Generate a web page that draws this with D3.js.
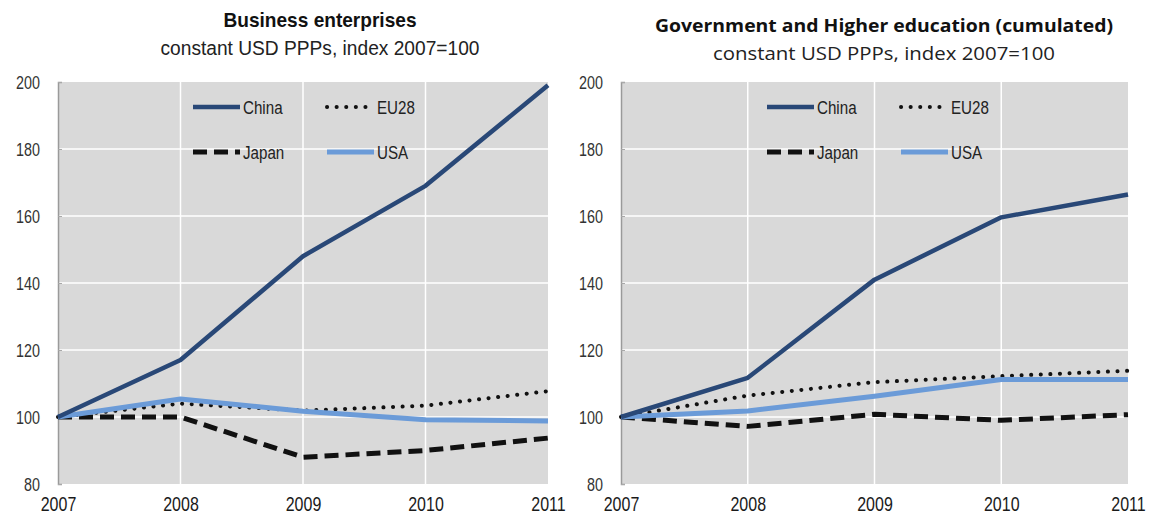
<!DOCTYPE html>
<html lang="en">
  <head>
    <meta charset="UTF-8" />
    <title>R&amp;D expenditure index</title>
    <style>
      body { margin: 0; background: #fff; }
    </style>
  </head>

  <body>
    <script src="https://cdn.jsdelivr.net/npm/d3@7/dist/d3.min.js"></script>
    <script>
      // data
      var years = [2007, 2008, 2009, 2010, 2011];
      var yTicks = [80, 100, 120, 140, 160, 180, 200];
      var names = ["China", "EU28", "Japan", "USA"];

      var busChina = [100, 117, 148, 169, 199];
      var busEU28  = [100, 104, 101.9, 103.4, 107.7];
      var busJapan = [100, 100, 88, 90, 93.7];
      var busUSA   = [100, 105.4, 101.7, 99.2, 98.8];

      var govChina = [100, 111.7, 141, 159.6, 166.4];
      var govEU28  = [100, 106.4, 110.4, 112.2, 113.8];
      var govJapan = [100, 97.2, 100.8, 99, 100.7];
      var govUSA   = [100, 101.8, 106.2, 111.2, 111.2];

      var w = 1151;
      var h = 515;
      var arial = "'Liberation Sans', Arial, sans-serif";
      var calibri = "'Open Sans', Lato, sans-serif";
      var sx = 0.82; // squeeze Arial into Arial Narrow

      var styles = {
        China: { color: "#294877", width: 4.5, dash: null },
        EU28:  { color: "#111", width: 4, dash: "0.1 9.5" },
        Japan: { color: "#111", width: 5, dash: "14 7" },
        USA:   { color: "#6b9bd8", width: 5, dash: null }
      };

      var svg = d3.select("body")
                  .append("svg")
                  .attr("width", w)
                  .attr("height", h);

      function squeeze(sel) {
        sel.attr("transform", "scale(" + sx + ",1)")
           .attr("x", function() { return (+this.getAttribute("x") || 0) / sx; });
      }

      function panel(opts, series) {
        var x = d3.scaleLinear()
                  .domain([2007, 2011])
                  .range([opts.left, opts.right]);
        var y = d3.scaleLinear()
                  .domain([80, 200])
                  .range([484, 82]);

        var g = svg.append("g");

        // grey plot background
        g.append("rect")
         .attr("x", opts.left)
         .attr("y", y(200))
         .attr("width", opts.right - opts.left)
         .attr("height", y(80) - y(200))
         .attr("fill", "#d9d9d9");

        // white grid
        g.selectAll(".hgrid")
         .data(yTicks.slice(1, -1))
         .enter()
         .append("line")
         .attr("x1", opts.left)
         .attr("x2", opts.right)
         .attr("y1", function(d) { return y(d); })
         .attr("y2", function(d) { return y(d); })
         .attr("stroke", "#fff")
         .attr("stroke-width", 1.5);

        g.selectAll(".vgrid")
         .data(years.slice(1, -1))
         .enter()
         .append("line")
         .attr("x1", function(d) { return x(d); })
         .attr("x2", function(d) { return x(d); })
         .attr("y1", y(200))
         .attr("y2", y(80))
         .attr("stroke", "#fff")
         .attr("stroke-width", 1.5);

        // y axis
        var yAxis = d3.axisLeft(y).tickValues(yTicks).tickSize(-4).tickPadding(18);
        var ya = g.append("g")
                  .attr("transform", "translate(" + opts.left + ",0)")
                  .call(yAxis);
        ya.select(".domain").attr("stroke", "#9a9a9a").attr("stroke-width", 1.5);
        ya.selectAll(".tick line").attr("stroke", "#a8a8a8");
        ya.selectAll("text")
          .attr("font-family", arial)
          .attr("font-size", 17.5)
          .attr("fill", "#333")
          .attr("dy", "0.36em")
          .call(squeeze);

        // x axis labels
        var xAxis = d3.axisBottom(x).tickValues(years).tickFormat(d3.format("d")).tickSize(0).tickPadding(13);
        var xa = g.append("g")
                  .attr("transform", "translate(0," + y(80) + ")")
                  .call(xAxis);
        xa.select(".domain").remove();
        xa.selectAll("text")
          .attr("font-family", arial)
          .attr("font-size", 19.5)
          .attr("fill", "#1a1a1a")
          .call(squeeze);

        // lines
        var line = d3.line()
                     .x(function(d, i) { return x(years[i]); })
                     .y(function(d) { return y(d); });

        ["EU28", "Japan", "USA", "China"].forEach(function(n) {
          var s = styles[n];
          g.append("path")
           .attr("d", line(series[n]))
           .attr("fill", "none")
           .attr("stroke", s.color)
           .attr("stroke-width", s.width)
           .attr("stroke-dasharray", s.dash)
           .attr("stroke-linecap", n == "EU28" ? "round" : "butt")
           .attr("stroke-linejoin", "round");
        });

        // legend
        var lg = g.selectAll(".legend")
                  .data(names)
                  .enter()
                  .append("g")
                  .attr("transform", function(d, i) {
                    var lx = opts.legX + (i % 2) * opts.legDx;
                    var ly = 107 + Math.floor(i / 2) * 45;
                    return "translate(" + lx + "," + ly + ")";
                  });
        lg.append("line")
          .attr("x1", 0)
          .attr("x2", 47)
          .attr("stroke", function(d) { return styles[d].color; })
          .attr("stroke-width", function(d) { return styles[d].width; })
          .attr("stroke-dasharray", function(d) { return styles[d].dash; })
          .attr("stroke-linecap", function(d) { return d == "EU28" ? "round" : "butt"; });
        lg.append("text")
          .attr("x", 50)
          .attr("dy", "0.36em")
          .attr("font-family", arial)
          .attr("font-size", 18.5)
          .attr("fill", "#222")
          .text(function(d) { return d; })
          .call(squeeze);

        // titles
        svg.append("text")
           .attr("x", opts.titleX)
           .attr("y", opts.titleY)
           .attr("text-anchor", "middle")
           .attr("font-family", opts.font)
           .attr("font-weight", "bold")
           .attr("font-size", opts.titleSize)
           .attr("textLength", opts.titleLen)
           .attr("lengthAdjust", "spacingAndGlyphs")
           .attr("fill", "#111")
           .text(opts.title);
        svg.append("text")
           .attr("x", opts.titleX)
           .attr("y", opts.titleY + 28)
           .attr("text-anchor", "middle")
           .attr("font-family", opts.font)
           .attr("font-size", opts.subSize)
           .attr("textLength", opts.subLen)
           .attr("lengthAdjust", "spacingAndGlyphs")
           .attr("fill", "#222")
           .text("constant USD PPPs, index 2007=100");
      }

      panel({ left: 58, right: 548, legX: 193, legDx: 134, titleX: 320, titleY: 27,
              title: "Business enterprises", font: arial,
              titleSize: 20.5, titleLen: 193, subSize: 19.5, subLen: 319 },
            { China: busChina, EU28: busEU28, Japan: busJapan, USA: busUSA });

      panel({ left: 621, right: 1128, legX: 767, legDx: 134, titleX: 884, titleY: 32,
              title: "Government and Higher education (cumulated)", font: calibri,
              titleSize: 18, titleLen: 458, subSize: 18, subLen: 342 },
            { China: govChina, EU28: govEU28, Japan: govJapan, USA: govUSA });
    </script>
  </body>
</html>
